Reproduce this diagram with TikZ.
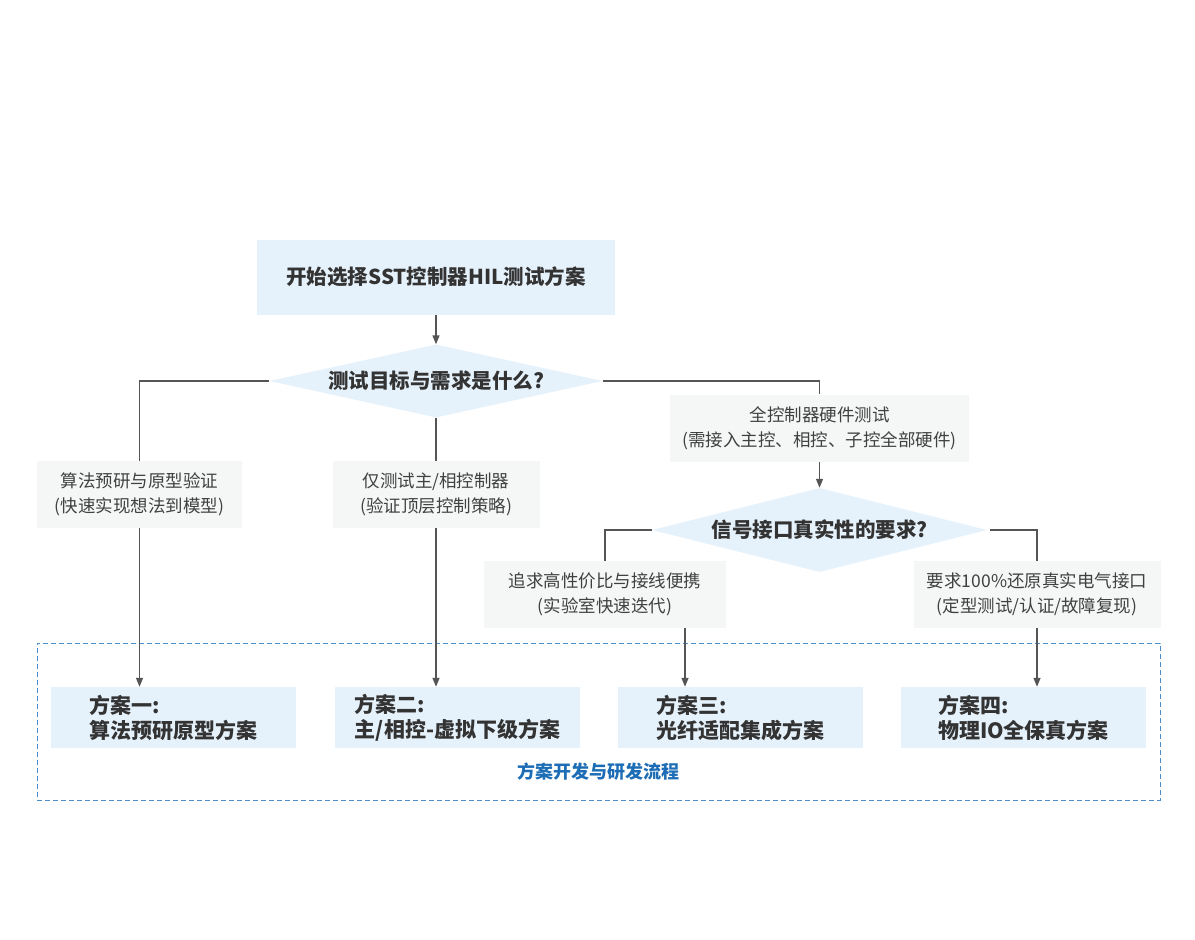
\documentclass[tikz,border=0pt]{standalone}
\usepackage{fontspec}
\setmainfont{Noto Sans CJK SC}
\usetikzlibrary{shapes.geometric,arrows.meta}
\definecolor{boxblue}{HTML}{E6F2FB}
\definecolor{boxgray}{HTML}{F5F7F7}
\definecolor{linegray}{HTML}{555555}
\definecolor{txtdark}{HTML}{333333}
\definecolor{frameblue}{HTML}{4A8FCC}
\definecolor{titleblue}{HTML}{1C6DB5}

\begin{document}
\begin{tikzpicture}[x=1pt, y=-1pt,
   every node/.style={text=txtdark, inner sep=0pt},
   startbox/.style={fill=boxblue, minimum width=358pt, minimum height=75pt,
      font=\fontsize{20.5}{25}\selectfont\bfseries},
   askbox/.style={diamond, fill=boxblue, font=\fontsize{20.5}{25}\selectfont\bfseries},
   notebox/.style={fill=boxgray, minimum height=67pt, align=center,
      text=black!75, font=\fontsize{17.5}{25}\selectfont},
   planbox/.style={fill=boxblue, minimum width=245pt, minimum height=61pt,
      align=left, font=\fontsize{21}{25}\selectfont\bfseries},
   stagebox/.style={draw=frameblue, line width=1pt, dash pattern=on 5pt off 3pt,
      minimum width=1123pt, minimum height=157pt},
   link/.style={draw=linegray, line width=1.4pt},
   arrow/.style={link, -{Triangle[length=9pt,width=7pt]}}]

\useasboundingbox (0,0) rectangle (1195,940);

% frame of the plans
\node[stagebox] (stage) at (598.5,721.5) {};
\node[text=titleblue, font=\fontsize{18}{22}\selectfont\bfseries] (stagetitle) at (598,772) {方案开发与研发流程};

% decision flow
\node[startbox] (start) at (436,277) {开始选择SST控制器HIL测试方案};
\node[askbox, aspect=4.56, minimum width=333pt, minimum height=73pt] (goal) at (436,381) {测试目标与需求是什么?};

\node[notebox, minimum width=205pt] (algo) at (139.5,494.5) {算法预研与原型验证\\(快速实现想法到模型)};
\node[notebox, minimum width=207pt] (main) at (436,494.5) {仅测试主/相控制器\\(验证顶层控制策略)};
\node[notebox, minimum width=299pt] (full) at (819.5,428) {全控制器硬件测试\\(需接入主控、相控、子控全部硬件)};

\node[askbox, aspect=4, minimum width=335pt, minimum height=84pt] (signal) at (819.5,530) {信号接口真实性的要求?};

\node[notebox, minimum width=242pt] (fiber) at (605,594.5) {追求高性价比与接线便携\\(实验室快速迭代)};
\node[notebox, minimum width=247pt] (phys) at (1037,594.5) {要求100\%还原真实电气接口\\(定型测试/认证/故障复现)};

% plans
\node[planbox] (planA) at (173.5,717.5) {方案一:\\算法预研原型方案};
\node[planbox] (planB) at (457.5,717.5) {方案二:\\主/相控-虚拟下级方案};
\node[planbox] (planC) at (740,717.5) {方案三:\\光纤适配集成方案};
\node[planbox] (planD) at (1023.5,717.5) {方案四:\\物理IO全保真方案};

% connectors
\draw[arrow] (start.south) -- (goal.north);
\draw[link] (goal.west) -| (algo.north);
\draw[link] (goal.south) -- (main.north);
\draw[link] (goal.east) -| (full.north);
\draw[arrow] (full.south) -- (signal.north);
\draw[link] (signal.west) -| (fiber.north);
\draw[link] ([xshift=3pt]signal.east) -| (phys.north);

\draw[arrow] (algo.south) -- (algo.south |- planA.north);
\draw[arrow] (main.south) -- (main.south |- planB.north);
\draw[arrow] ([xshift=80pt]fiber.south) -- ([xshift=80pt]fiber.south |- planC.north);
\draw[arrow] (phys.south) -- (phys.south |- planD.north);

\end{tikzpicture}
\end{document}
